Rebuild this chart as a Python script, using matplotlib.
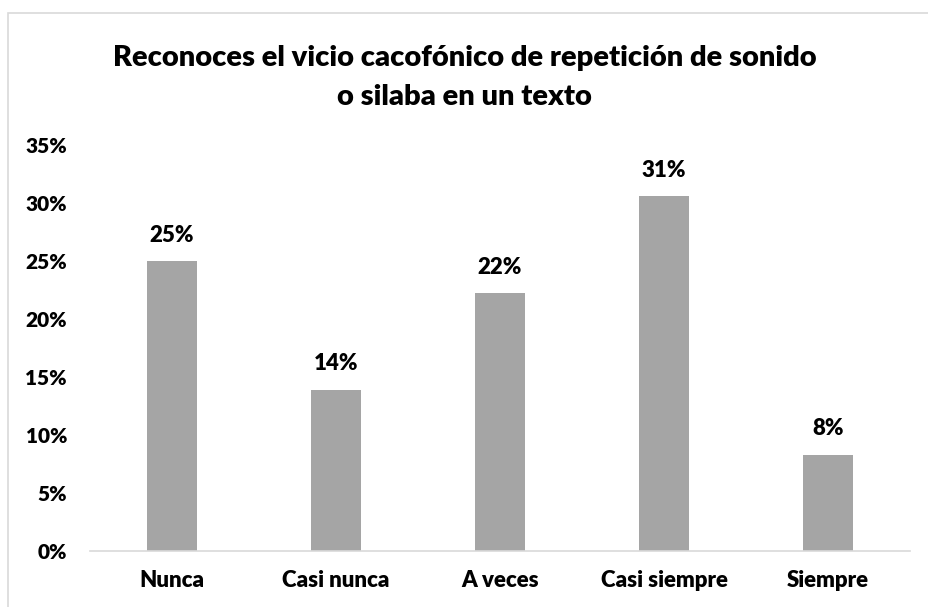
import matplotlib
matplotlib.use("Agg")
import matplotlib.pyplot as plt
from matplotlib.patches import Rectangle
from matplotlib.ticker import FuncFormatter

categories = ["Nunca", "Casi nunca", "A veces", "Casi siempre", "Siempre"]
values = [0.25, 0.139, 0.222, 0.306, 0.083]
labels = ["25%", "14%", "22%", "31%", "8%"]
yticks = [0, 0.05, 0.10, 0.15, 0.20, 0.25, 0.30, 0.35]

plt.rcParams['font.family'] = ['Lato', 'DejaVu Sans']
W = "heavy"

fig = plt.figure(figsize=(9.29, 6.07), dpi=100)
fig.patches.append(Rectangle((8/929, -0.01), 1.0, 1 - 13/607 + 0.01, transform=fig.transFigure,
                             fill=False, edgecolor="#D9D9D9", linewidth=1.2))
ax = fig.add_axes([90/929, 1 - 551/607, (910 - 90)/929, (551 - 145)/607])

x = range(len(categories))
bars = ax.bar(x, values, width=0.31, color="#A5A5A5")
for xi, v, lab in zip(x, values, labels):
    ax.annotate(lab, (xi, v), xytext=(0, 11), textcoords="offset points",
                ha="center", va="bottom", fontsize=16, fontweight=W)

ax.set_xlim(-0.5, len(categories) - 0.5)
ax.set_ylim(0, 0.35)
ax.set_yticks(yticks)
ax.yaxis.set_major_formatter(FuncFormatter(lambda v, p: f"{round(v*100):.0f}%"))
ax.set_xticks(list(x))
ax.set_xticklabels(categories)
for t in ax.get_xticklabels():
    t.set_fontweight(W)
    t.set_fontsize(16)
for t in ax.get_yticklabels():
    t.set_fontweight(W)
    t.set_fontsize(15)
ax.tick_params(axis="both", length=0)
ax.tick_params(axis="x", pad=14)
ax.tick_params(axis="y", pad=16.5)
for s in ["top", "right", "left"]:
    ax.spines[s].set_visible(False)
ax.spines["bottom"].set_color("#D9D9D9")
ax.spines["bottom"].set_linewidth(1.2)

fig.text(0.5, 1 - 58/607, "Reconoces el vicio cacofónico de repetición de sonido",
         ha="center", va="center", fontsize=21, fontweight=W)
fig.text(0.5, 1 - 97/607, "o silaba en un texto",
         ha="center", va="center", fontsize=21, fontweight=W)

fig.savefig("out.png", dpi=100)
